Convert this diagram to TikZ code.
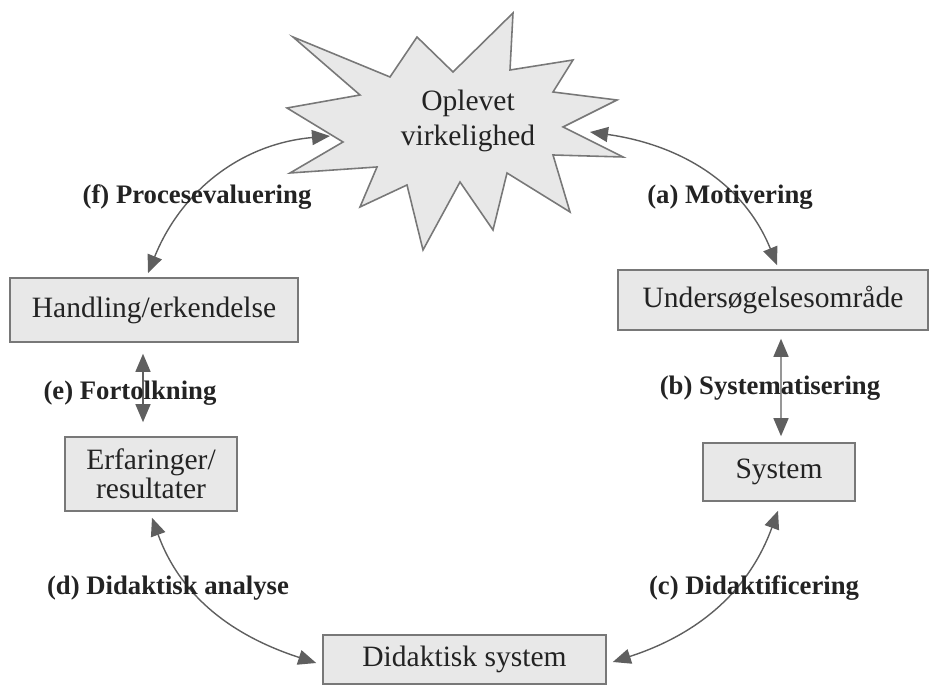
\documentclass[tikz,border=0pt]{standalone}
\usepackage{fontspec}
\setmainfont{Liberation Serif}
\usetikzlibrary{arrows.meta,positioning}
\definecolor{boxfill}{RGB}{232,232,232}
\definecolor{boxline}{RGB}{120,120,120}
\definecolor{arrowgray}{RGB}{95,95,95}
\definecolor{txt}{RGB}{35,35,35}

\begin{document}
\begin{tikzpicture}[
  boks/.style={draw=boxline,fill=boxfill,line width=0.9pt,inner sep=0pt,align=center,text=txt,font=\fontsize{16.8}{17}\selectfont},
  lbl/.style={text=txt,inner sep=0pt,font=\fontsize{15.2}{17}\selectfont\bfseries},
  pil/.style={draw=arrowgray,line width=0.8pt,{Triangle[length=0.36cm,width=0.3cm]}-{Triangle[length=0.36cm,width=0.3cm]}}
]
\useasboundingbox (0,0) rectangle (18.6,13.72);

% stjernen
\filldraw[fill=boxfill,draw=boxline,line width=0.9pt,line join=miter]
  (5.86,12.98) -- (7.80,12.18) -- (8.34,12.98) -- (9.06,12.28) -- (10.26,13.46) -- (10.20,12.32)
  -- (11.46,12.52) -- (11.06,11.88) -- (12.34,11.72) -- (11.26,11.18) -- (12.46,10.58) -- (11.06,10.62)
  -- (11.40,9.48) -- (10.14,10.26) -- (9.86,9.12) -- (9.20,10.08) -- (8.46,8.72) -- (8.14,10.02)
  -- (7.20,9.58) -- (7.54,10.38) -- (5.80,10.26) -- (6.86,10.88) -- (5.74,11.56) -- (7.20,11.82) -- cycle;
\node[align=center,text=txt,font=\fontsize{16.8}{20}\selectfont] (opl) at (9.36,11.30) {Oplevet\\virkelighed};
\coordinate (starL) at (6.60,11.00);
\coordinate (starR) at (11.80,11.08);

% kasserne
\node[boks,minimum width=6.2cm,minimum height=1.2cm] (omr) at (15.46,7.72) {Undersøgelsesområde};
\node[boks,minimum width=5.76cm,minimum height=1.28cm] (hand) at (3.08,7.52) {Handling/erkendelse};
\node[boks,minimum width=3.04cm,minimum height=1.16cm] (sys) at (15.58,4.28) {System};
\node[boks,minimum width=3.44cm,minimum height=1.48cm,font=\fontsize{16.8}{16.5}\selectfont] (erf) at (3.02,4.24) {Erfaringer/\\resultater};
\node[boks,minimum width=5.66cm,minimum height=0.98cm] (dsys) at (9.29,0.53) {Didaktisk system};

% pilene
\draw[pil] (starR) to[out=-8,in=112] ([xshift=0.08cm,yshift=0.08cm]omr.north);
\draw[pil] ([xshift=0.16cm,yshift=-0.16cm]omr.south) -- ([xshift=0.04cm,yshift=0.12cm]sys.north);
\draw[pil] ([xshift=0.12cm,yshift=-0.05cm]dsys.east) to[out=18,in=-110] ([xshift=-0.02cm,yshift=-0.18cm]sys.south);
\draw[pil] ([xshift=-0.12cm,yshift=-0.07cm]dsys.west) to[out=162,in=-70] ([xshift=0.02cm,yshift=-0.12cm]erf.south);
\draw[pil] ([xshift=-0.22cm,yshift=-0.22cm]hand.south) -- ([xshift=-0.16cm,yshift=0.28cm]erf.north);
\draw[pil] ([xshift=-0.12cm,yshift=0.08cm]hand.north) to[out=68,in=185] (starL);

% tekster
\node[lbl] (motiv) at (14.6,9.78) {(a) Motivering};
\node[lbl] (syst) at (15.4,5.96) {(b) Systematisering};
\node[lbl] (didak) at (15.08,1.96) {(c) Didaktificering};
\node[lbl] (analyse) at (3.36,1.96) {(d) Didaktisk analyse};
\node[lbl] (fortolk) at (2.6,5.86) {(e) Fortolkning};
\node[lbl] (proces) at (3.94,9.78) {(f) Procesevaluering};
\end{tikzpicture}
\end{document}
